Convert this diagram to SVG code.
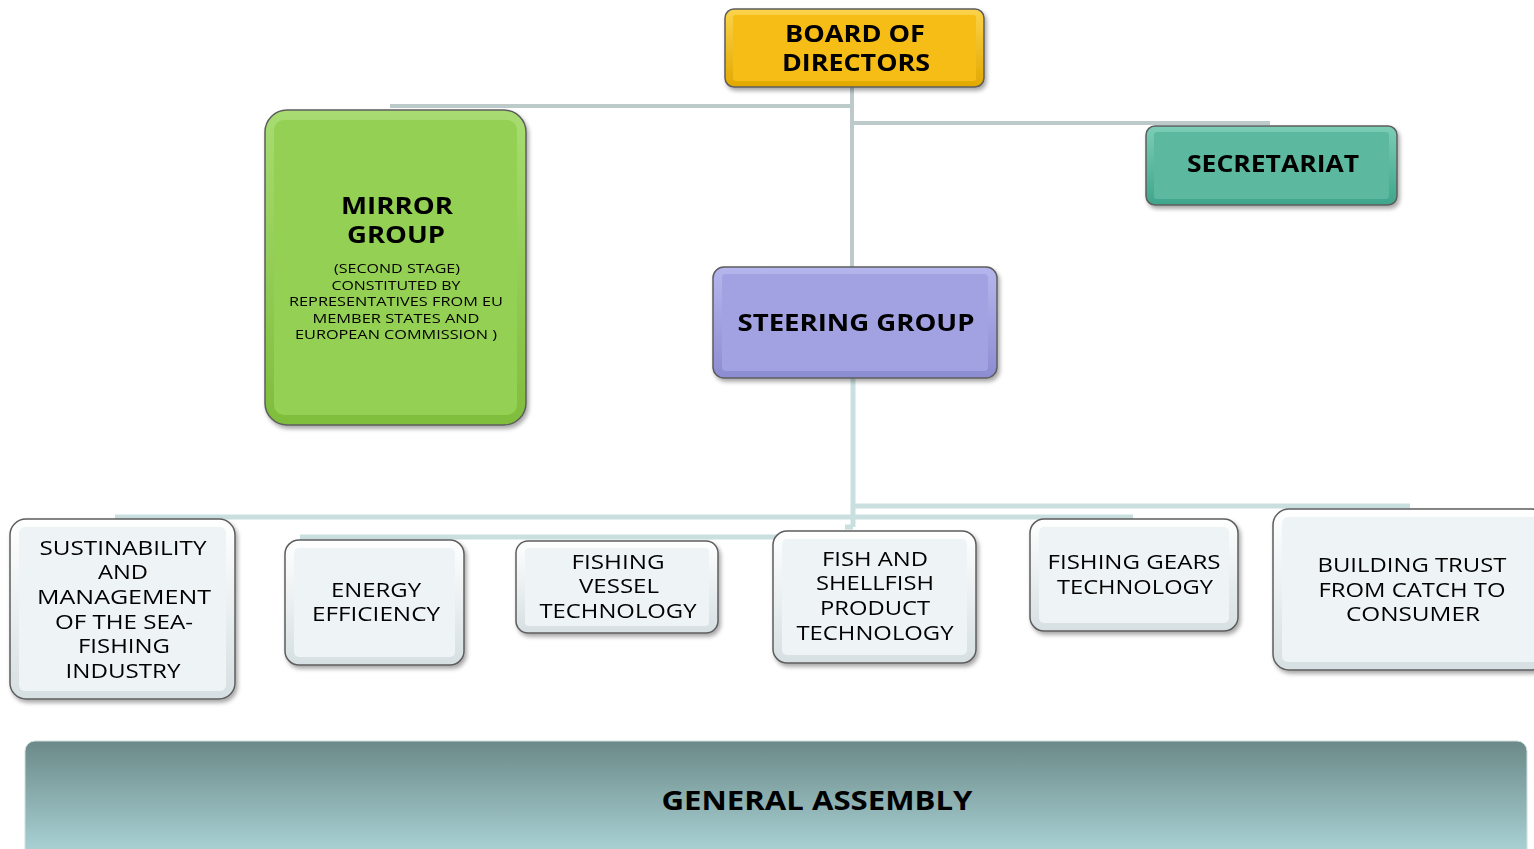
<svg xmlns="http://www.w3.org/2000/svg" width="1534" height="849" viewBox="0 0 1534 849">
<defs>
<filter id="sh" x="-10%" y="-10%" width="125%" height="130%"><feDropShadow dx="2" dy="3" stdDeviation="2" flood-color="#000" flood-opacity="0.35"/></filter>
<linearGradient id="gGold" x1="0" y1="0" x2="0" y2="1"><stop offset="0" stop-color="#fbd34a"/><stop offset="1" stop-color="#e2a800"/></linearGradient>
<linearGradient id="gGreen" x1="0" y1="0" x2="0" y2="1"><stop offset="0" stop-color="#a8dc72"/><stop offset="1" stop-color="#7fbd3c"/></linearGradient>
<linearGradient id="gTeal" x1="0" y1="0" x2="0" y2="1"><stop offset="0" stop-color="#7ccdb6"/><stop offset="1" stop-color="#3fa58b"/></linearGradient>
<linearGradient id="gLav" x1="0" y1="0" x2="0" y2="1"><stop offset="0" stop-color="#b6b6ee"/><stop offset="1" stop-color="#8c8cd2"/></linearGradient>
<linearGradient id="gWhite" x1="0" y1="0" x2="0" y2="1"><stop offset="0" stop-color="#ffffff"/><stop offset="1" stop-color="#d6dfe2"/></linearGradient>
<linearGradient id="gGA" x1="0" y1="0" x2="0" y2="1"><stop offset="0" stop-color="#6b8988"/><stop offset="1" stop-color="#b4dee2"/></linearGradient>
</defs>
<style>
.o{stroke:#5d5d5d;stroke-width:1.5}
.t{font-family:"Open Sans","Liberation Sans",sans-serif;text-anchor:middle;fill:#000}
.b{font-weight:bold;font-size:24px}
.b2{font-weight:bold;font-size:23px}
.n{font-size:20px}
.s{font-size:13px}
.c1{stroke:#bccaca;stroke-width:4;fill:none}
.c2{stroke:#c9dfe0;stroke-width:5;fill:none}
</style>
<rect width="1534" height="849" fill="#fff"/>
<g id="connectors">
<path class="c1" d="M852 86V267M390 106H852M852 123H1270"/>
<path class="c2" d="M853 378V527M853 506H1410M115 517H1133M300 537H800M853 527H845"/>
</g>
<g id="board" filter="url(#sh)">
<rect class="o" x="725" y="9" width="259" height="78" rx="9" fill="url(#gGold)"/>
<rect x="733" y="15" width="243" height="66" rx="3" fill="#f6bd12"/>
<text class="t b2" x="855" y="42" textLength="140" lengthAdjust="spacingAndGlyphs">BOARD OF</text>
<text class="t b2" x="856" y="71" textLength="148" lengthAdjust="spacingAndGlyphs">DIRECTORS</text>
</g>
<g id="mirror" filter="url(#sh)">
<rect class="o" x="265" y="110" width="261" height="315" rx="22" fill="url(#gGreen)"/>
<rect x="274" y="120" width="243" height="295" rx="10" fill="#94d052"/>
<text class="t b2" x="397" y="214" textLength="112" lengthAdjust="spacingAndGlyphs">MIRROR</text>
<text class="t b2" x="396" y="243" textLength="98" lengthAdjust="spacingAndGlyphs">GROUP</text>
<text class="t s" x="397" y="273" textLength="126" lengthAdjust="spacingAndGlyphs">(SECOND STAGE)</text>
<text class="t s" x="396" y="290" textLength="129" lengthAdjust="spacingAndGlyphs">CONSTITUTED BY</text>
<text class="t s" x="396" y="306" textLength="214" lengthAdjust="spacingAndGlyphs">REPRESENTATIVES FROM EU</text>
<text class="t s" x="396" y="323" textLength="167" lengthAdjust="spacingAndGlyphs">MEMBER STATES AND</text>
<text class="t s" x="396" y="339" textLength="202" lengthAdjust="spacingAndGlyphs">EUROPEAN COMMISSION )</text>
</g>
<g id="secretariat" filter="url(#sh)">
<rect class="o" x="1146" y="126" width="251" height="79" rx="9" fill="url(#gTeal)"/>
<rect x="1154" y="132" width="235" height="67" rx="3" fill="#5bb9a0"/>
<text class="t b" x="1273" y="172" textLength="172" lengthAdjust="spacingAndGlyphs">SECRETARIAT</text>
</g>
<g id="steering" filter="url(#sh)">
<rect class="o" x="713" y="267" width="284" height="111" rx="11" fill="url(#gLav)"/>
<rect x="722" y="274" width="266" height="97" rx="4" fill="#a2a2e2"/>
<text class="t b" x="856" y="331" textLength="237" lengthAdjust="spacingAndGlyphs">STEERING GROUP</text>
</g>
<g id="sustainability" filter="url(#sh)">
<rect class="o" x="10" y="519" width="225" height="180" rx="16" fill="url(#gWhite)"/>
<rect x="19" y="527" width="207" height="164" rx="6" fill="#eef4f6"/>
<text class="t n" x="123" y="555" textLength="167" lengthAdjust="spacingAndGlyphs">SUSTINABILITY</text>
<text class="t n" x="123" y="579" textLength="50" lengthAdjust="spacingAndGlyphs">AND</text>
<text class="t n" x="124" y="604" textLength="174" lengthAdjust="spacingAndGlyphs">MANAGEMENT</text>
<text class="t n" x="124" y="629" textLength="138" lengthAdjust="spacingAndGlyphs">OF THE SEA-</text>
<text class="t n" x="124" y="653" textLength="92" lengthAdjust="spacingAndGlyphs">FISHING</text>
<text class="t n" x="123" y="678" textLength="115" lengthAdjust="spacingAndGlyphs">INDUSTRY</text>
</g>
<g id="energy" filter="url(#sh)">
<rect class="o" x="285" y="540" width="179" height="125" rx="14" fill="url(#gWhite)"/>
<rect x="294" y="548" width="161" height="109" rx="5" fill="#eef4f6"/>
<text class="t n" x="376" y="597" textLength="90" lengthAdjust="spacingAndGlyphs">ENERGY</text>
<text class="t n" x="376" y="621" textLength="128" lengthAdjust="spacingAndGlyphs">EFFICIENCY</text>
</g>
<g id="vessel" filter="url(#sh)">
<rect class="o" x="516" y="541" width="202" height="92" rx="12" fill="url(#gWhite)"/>
<rect x="525" y="548" width="184" height="78" rx="4" fill="#eef4f6"/>
<text class="t n" x="618" y="569" textLength="93" lengthAdjust="spacingAndGlyphs">FISHING</text>
<text class="t n" x="619" y="593" textLength="80" lengthAdjust="spacingAndGlyphs">VESSEL</text>
<text class="t n" x="618" y="618" textLength="157" lengthAdjust="spacingAndGlyphs">TECHNOLOGY</text>
</g>
<g id="fish" filter="url(#sh)">
<rect class="o" x="773" y="531" width="203" height="132" rx="14" fill="url(#gWhite)"/>
<rect x="782" y="539" width="185" height="116" rx="5" fill="#eef4f6"/>
<text class="t n" x="875" y="566" textLength="106" lengthAdjust="spacingAndGlyphs">FISH AND</text>
<text class="t n" x="875" y="590" textLength="118" lengthAdjust="spacingAndGlyphs">SHELLFISH</text>
<text class="t n" x="875" y="615" textLength="110" lengthAdjust="spacingAndGlyphs">PRODUCT</text>
<text class="t n" x="875" y="640" textLength="157" lengthAdjust="spacingAndGlyphs">TECHNOLOGY</text>
</g>
<g id="gears" filter="url(#sh)">
<rect class="o" x="1030" y="519" width="208" height="112" rx="14" fill="url(#gWhite)"/>
<rect x="1039" y="527" width="190" height="96" rx="5" fill="#eef4f6"/>
<text class="t n" x="1134" y="569" textLength="173" lengthAdjust="spacingAndGlyphs">FISHING GEARS</text>
<text class="t n" x="1135" y="594" textLength="156" lengthAdjust="spacingAndGlyphs">TECHNOLOGY</text>
</g>
<g id="trust" filter="url(#sh)">
<rect class="o" x="1273" y="509" width="275" height="161" rx="16" fill="url(#gWhite)"/>
<rect x="1282" y="517" width="257" height="145" rx="6" fill="#eef4f6"/>
<text class="t n" x="1412" y="572" textLength="189" lengthAdjust="spacingAndGlyphs">BUILDING TRUST</text>
<text class="t n" x="1412" y="597" textLength="187" lengthAdjust="spacingAndGlyphs">FROM CATCH TO</text>
<text class="t n" x="1413" y="621" textLength="134" lengthAdjust="spacingAndGlyphs">CONSUMER</text>
</g>
<g id="assembly">
<rect x="25" y="741" width="1502" height="130" rx="10" fill="url(#gGA)" stroke="#cfdede" stroke-width="1"/>
<text class="t" x="817" y="810" font-weight="bold" font-size="26" textLength="311" lengthAdjust="spacingAndGlyphs">GENERAL ASSEMBLY</text>
</g>
</svg>
